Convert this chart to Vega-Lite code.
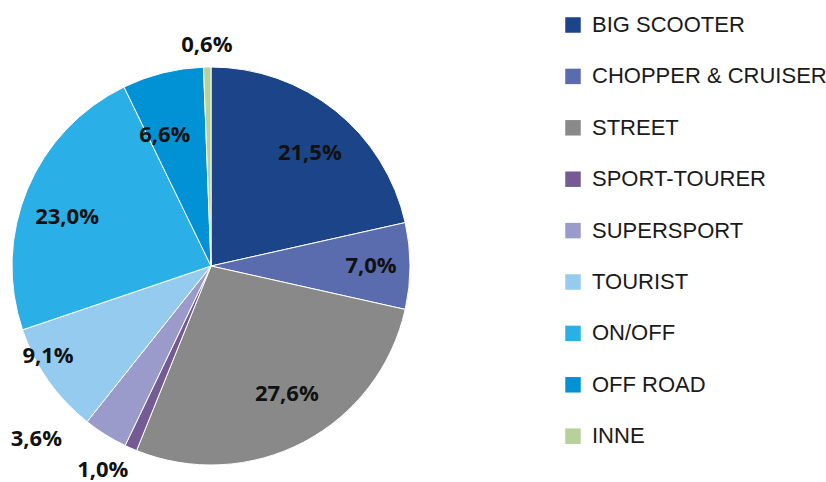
{
  "$schema": "https://vega.github.io/schema/vega-lite/v6.json",
  "width": 422,
  "height": 400,
  "autosize": "none",
  "padding": {"left": 0, "top": 66, "right": 404, "bottom": 16},
  "background": "white",
  "config": {
    "view": {"stroke": null},
    "text": {"font": "Open Sans", "fontWeight": "bold", "fontSize": 22, "color": "#111111"},
    "locale": {"number": {"decimal": ",", "thousands": ".", "grouping": [3], "currency": ["", " zł"]}}
  },
  "data": {
    "values": [
      {"segment": "BIG SCOOTER", "share": 0.215, "idx": 1},
      {"segment": "CHOPPER & CRUISER", "share": 0.070, "idx": 2},
      {"segment": "STREET", "share": 0.276, "idx": 3},
      {"segment": "SPORT-TOURER", "share": 0.010, "idx": 4},
      {"segment": "SUPERSPORT", "share": 0.036, "idx": 5},
      {"segment": "TOURIST", "share": 0.091, "idx": 6},
      {"segment": "ON/OFF", "share": 0.230, "idx": 7},
      {"segment": "OFF ROAD", "share": 0.066, "idx": 8},
      {"segment": "INNE", "share": 0.006, "idx": 9}
    ]
  },
  "encoding": {
    "theta": {"field": "share", "type": "quantitative", "stack": true},
    "order": {"field": "idx", "type": "quantitative"}
  },
  "layer": [
    {
      "mark": {"type": "arc", "radius": 199, "stroke": "white", "strokeWidth": 1},
      "encoding": {
        "color": {
          "field": "segment",
          "type": "nominal",
          "scale": {
            "domain": ["BIG SCOOTER", "CHOPPER & CRUISER", "STREET", "SPORT-TOURER", "SUPERSPORT", "TOURIST", "ON/OFF", "OFF ROAD", "INNE"],
            "range": ["#1b4489", "#5a6cae", "#898989", "#745b93", "#9a9acb", "#95cbef", "#2ab0e6", "#0191d5", "#b8d099"]
          },
          "legend": {
            "title": null,
            "orient": "none",
            "legendX": 562,
            "legendY": -52,
            "symbolType": "square",
            "symbolSize": 240,
            "symbolStrokeWidth": 0,
            "labelFont": "Liberation Sans",
            "labelFontSize": 22,
            "labelColor": "#1a1a1a",
            "labelOffset": 8,
            "rowPadding": 29.4,
            "labelLimit": 400
          }
        }
      }
    },
    {
      "mark": {"type": "text", "radius": 150, "thetaOffset": 0.044},
      "encoding": {"text": {"condition": {"test": "datum.idx == 1", "field": "share", "type": "quantitative", "format": ".1%"}, "value": ""}}
    },
    {
      "mark": {"type": "text", "radius": 160},
      "encoding": {"text": {"condition": {"test": "datum.idx == 2", "field": "share", "type": "quantitative", "format": ".1%"}, "value": ""}}
    },
    {
      "mark": {"type": "text", "radius": 149, "thetaOffset": -0.05},
      "encoding": {"text": {"condition": {"test": "datum.idx == 3", "field": "share", "type": "quantitative", "format": ".1%"}, "value": ""}}
    },
    {
      "mark": {"type": "text", "radius": 231, "thetaOffset": 0.073},
      "encoding": {"text": {"condition": {"test": "datum.idx == 4", "field": "share", "type": "quantitative", "format": ".1%"}, "value": ""}}
    },
    {
      "mark": {"type": "text", "radius": 246, "thetaOffset": 0.23},
      "encoding": {"text": {"condition": {"test": "datum.idx == 5", "field": "share", "type": "quantitative", "format": ".1%"}, "value": ""}}
    },
    {
      "mark": {"type": "text", "radius": 186, "thetaOffset": 0.11},
      "encoding": {"text": {"condition": {"test": "datum.idx == 6", "field": "share", "type": "quantitative", "format": ".1%"}, "value": ""}}
    },
    {
      "mark": {"type": "text", "radius": 152, "thetaOffset": -0.068},
      "encoding": {"text": {"condition": {"test": "datum.idx == 7", "field": "share", "type": "quantitative", "format": ".1%"}, "value": ""}}
    },
    {
      "mark": {"type": "text", "radius": 139, "thetaOffset": -0.094},
      "encoding": {"text": {"condition": {"test": "datum.idx == 8", "field": "share", "type": "quantitative", "format": ".1%"}, "value": ""}}
    },
    {
      "mark": {"type": "text", "radius": 221},
      "encoding": {"text": {"condition": {"test": "datum.idx == 9", "field": "share", "type": "quantitative", "format": ".1%"}, "value": ""}}
    }
  ]
}
